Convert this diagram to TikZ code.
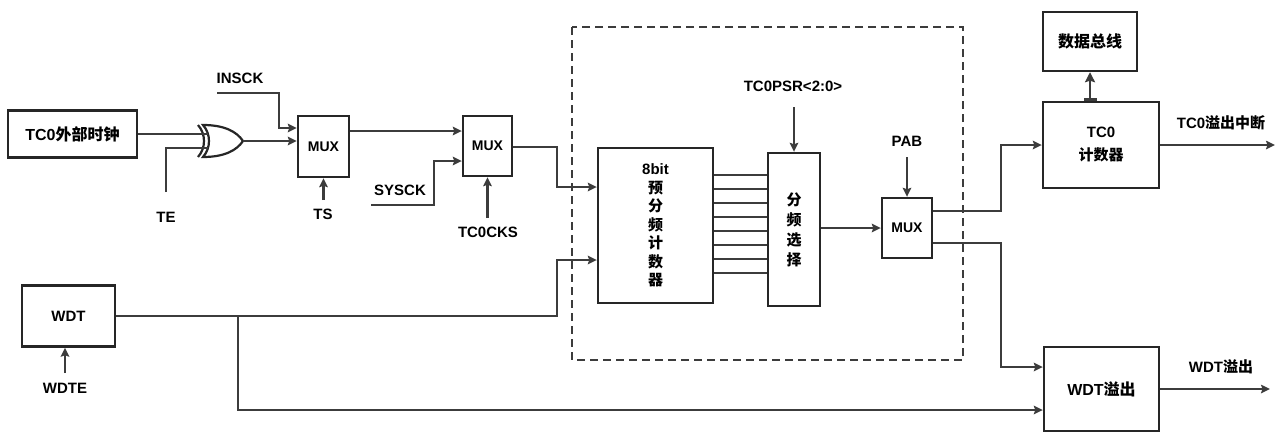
\documentclass[tikz,border=0pt]{standalone}
\usepackage{fontspec}
\setmainfont{Liberation Sans}
\newfontfamily\cjk{Noto Sans CJK SC}
\usetikzlibrary{arrows.meta}
\definecolor{ln}{HTML}{3C3C3C}
\begin{document}
\begin{tikzpicture}[x=1pt,y=-1pt,
  box/.style={draw=black!85, line width=2.4pt, inner sep=0pt, align=center, font=\bfseries\fontsize{16}{19}\selectfont},
  lbl/.style={inner sep=1pt, font=\bfseries\fontsize{15}{18}\selectfont},
  conn/.style={draw=ln, line width=2.2pt},
  arr/.style={conn, -{Stealth[length=9pt,width=8.5pt,inset=1.5pt]}},
  busarr/.style={conn, {Rectangle[length=3pt,width=13pt]}-{Stealth[length=10pt,width=10pt,inset=1.5pt]}},
  gate/.style={draw=black!85, line width=2.2pt},
  frame/.style={draw=ln, line width=1.3pt, dash pattern=on 8pt off 5pt}]
\useasboundingbox (0,0) rectangle (1279,432);

% blocks
\node[box, minimum width=129pt, minimum height=47pt] (ext) at (72.5,134) {TC0{\cjk 外部时钟}};
\node[box, minimum width=51pt, minimum height=61pt, font=\bfseries\fontsize{14}{16}\selectfont] (mux1) at (323.5,146.5) {MUX};
\node[box, minimum width=49pt, minimum height=60pt, font=\bfseries\fontsize{14}{16}\selectfont] (mux2) at (487.5,146) {MUX};
\node[box, minimum width=115pt, minimum height=155pt, font=\bfseries\fontsize{15}{18.5}\selectfont] (pre) at (655.5,225.5) {8bit\\{\cjk 预}\\{\cjk 分}\\{\cjk 频}\\{\cjk 计}\\{\cjk 数}\\{\cjk 器}};
\node[box, minimum width=52pt, minimum height=153pt, font=\bfseries\fontsize{15}{20}\selectfont] (sel) at (794,229.5) {{\cjk 分}\\{\cjk 频}\\{\cjk 选}\\{\cjk 择}};
\node[box, minimum width=50pt, minimum height=60pt, font=\bfseries\fontsize{14}{16}\selectfont] (mux3) at (907,228) {MUX};
\node[box, minimum width=116pt, minimum height=86pt, font=\bfseries\fontsize{15}{23}\selectfont] (tc0) at (1101,145) {TC0\\{\cjk 计数器}};
\node[box, minimum width=94pt, minimum height=59pt] (bus) at (1090,41.5) {{\cjk 数据总线}};
\node[box, minimum width=93pt, minimum height=61pt, font=\bfseries\fontsize{15}{18}\selectfont] (wdt) at (68.5,316) {WDT};
\node[box, minimum width=115pt, minimum height=84pt] (wov) at (1101.5,389) {WDT{\cjk 溢出}};

% dashed frame
\draw[frame] (572,27) rectangle (963,360);

% XOR gate
\draw[gate] (203,125) .. controls (225,125) and (237,132) .. (243,141)
  .. controls (237,150) and (225,157) .. (203,157)
  .. controls (211,148) and (211,134) .. cycle;
\draw[gate] (198,125) .. controls (206,134) and (206,148) .. (198,157);
\coordinate (g1) at (207.5,134);
\coordinate (g2) at (207.5,148);
\coordinate (gout) at (243,141);

% labels
\node[lbl] (insck) at (240,78) {INSCK};
\node[lbl] (te) at (166,217) {TE};
\node[lbl] (ts) at (323,214) {TS};
\node[lbl] (sysck) at (400,190) {SYSCK};
\node[lbl] (tcks) at (488,232) {TC0CKS};
\node[lbl] (psr) at (793,86) {TC0PSR<2:0>};
\node[lbl] (pab) at (907,141) {PAB};
\node[lbl] (wdte) at (65,388) {WDTE};
\node[lbl] (tcov) at (1221,123) {TC0{\cjk 溢出中断}};
\node[lbl] (wdov) at (1221,367) {WDT{\cjk 溢出}};

% free ends
\coordinate (inA) at (217,93);
\coordinate (teA) at (166,192);
\coordinate (tsA) at (323.5,200);
\coordinate (sysA) at (371,205);
\coordinate (tcksA) at (487.5,218);
\coordinate (psrA) at (794,107);
\coordinate (pabA) at (907,157);
\coordinate (wdteA) at (65,373);
\coordinate (tcout) at (1275,145);
\coordinate (wdout) at (1270,389);
\coordinate (br) at (238,316);

% connectors
\draw[conn] (ext.east) -- (ext.east -| g1);
\draw[conn] (teA) |- (g2);
\draw[arr] (inA) -| (279,128) -- (mux1.west |- 0,128);
\draw[arr] (gout) -- (mux1.west |- gout);
\draw[arr] (tsA) -- (mux1.south);
\draw[arr] (mux1.east |- 0,131) -- (mux2.west |- 0,131);
\draw[arr] (sysA) -| (434,161) -- (mux2.west |- 0,161);
\draw[arr] (tcksA) -- (mux2.south);
\draw[arr] (mux2.east |- 0,147) -| (557,187) -- (pre.west |- 0,187);
\draw[arr] (wdt.east) -| (557,260) -- (pre.west |- 0,260);
\draw[arr] (br) |- (wov.west |- 0,410);
\foreach \k in {0,...,7}{
  \pgfmathsetmacro\yy{175+14*\k}
  \draw[conn] (pre.east |- 0,\yy) -- (sel.west |- 0,\yy);
}
\draw[arr] (psrA) -- (sel.north);
\draw[arr] (mux3.west -| sel.east) -- (mux3.west);
\draw[arr] (pabA) -- (mux3.north);
\draw[arr] (mux3.east |- 0,211) -| (1001,145) -- (tc0.west);
\draw[arr] (mux3.east |- 0,243) -| (1001,367) -- (wov.west |- 0,367);
\draw[arr] (tc0.east) -- (tcout);
\draw[arr] (wov.east) -- (wdout);
\draw[busarr] (tc0.north -| bus.south) -- (bus.south);
\draw[arr] (wdteA) -- (wdteA |- wdt.south);
\end{tikzpicture}
\end{document}
